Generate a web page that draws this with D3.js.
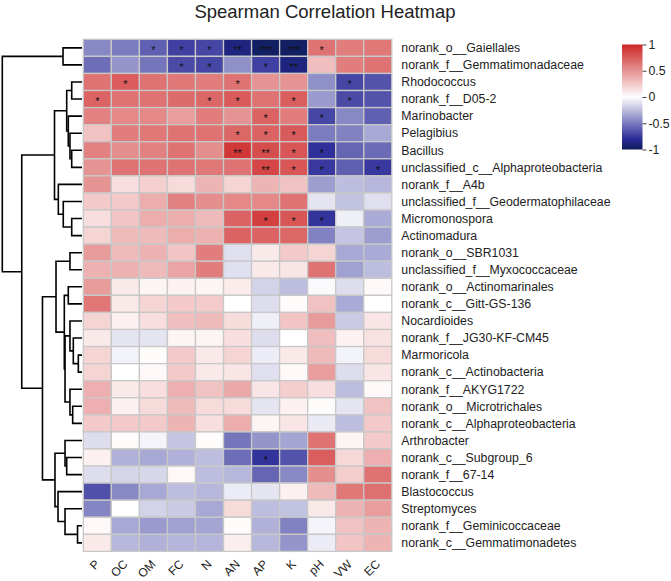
<!DOCTYPE html>
<html><head><meta charset="utf-8">
<script src="https://cdn.jsdelivr.net/npm/d3@7"></script>
<style>
body{margin:0;background:#fff;}
svg{display:block;font-family:"Liberation Sans",Arial,Helvetica,sans-serif;}
</style>
</head><body>
<svg id="chart" width="671" height="581"></svg>
<script>
// ---------------- DATA ----------------
const columns = ["P","OC","OM","FC","N","AN","AP","K","pH","VW","EC"];

const rows = [
  "norank_o__Gaiellales","norank_f__Gemmatimonadaceae","Rhodococcus","norank_f__D05-2",
  "Marinobacter","Pelagibius","Bacillus","unclassified_c__Alphaproteobacteria",
  "norank_f__A4b","unclassified_f__Geodermatophilaceae","Micromonospora","Actinomadura",
  "norank_o__SBR1031","unclassified_f__Myxococcaceae","norank_o__Actinomarinales","norank_c__Gitt-GS-136",
  "Nocardioides","norank_f__JG30-KF-CM45","Marmoricola","norank_c__Actinobacteria",
  "norank_f__AKYG1722","norank_o__Microtrichales","norank_c__Alphaproteobacteria","Arthrobacter",
  "norank_c__Subgroup_6","norank_f__67-14","Blastococcus","Streptomyces",
  "norank_f__Geminicoccaceae","norank_c__Gemmatimonadetes"
];

const values = [
  [-0.45,-0.50,-0.60,-0.72,-0.70,-0.88,-0.97,-0.97, 0.65, 0.60, 0.62],
  [-0.55,-0.40,-0.52,-0.68,-0.70,-0.42,-0.72,-0.88, 0.30, 0.60, 0.65],
  [ 0.65, 0.75, 0.65, 0.62, 0.60, 0.65, 0.50, 0.50,-0.42,-0.70,-0.65],
  [ 0.72, 0.65, 0.65, 0.68, 0.70, 0.76, 0.65, 0.74,-0.38,-0.68,-0.65],
  [ 0.58, 0.55, 0.55, 0.45, 0.60, 0.50, 0.72, 0.60,-0.70,-0.45,-0.60],
  [ 0.28, 0.60, 0.62, 0.65, 0.65, 0.70, 0.72, 0.76,-0.50,-0.47,-0.33],
  [ 0.58, 0.52, 0.58, 0.65, 0.52, 0.92, 0.82, 0.78,-0.78,-0.58,-0.56],
  [ 0.50, 0.65, 0.65, 0.65, 0.62, 0.65, 0.85, 0.78,-0.75,-0.60,-0.75],
  [ 0.50, 0.15, 0.22, 0.17, 0.35, 0.20, 0.35, 0.28,-0.37,-0.25,-0.27],
  [ 0.25, 0.25, 0.38, 0.58, 0.52, 0.55, 0.55, 0.65,-0.10,-0.23,-0.12],
  [ 0.15, 0.27, 0.38, 0.38, 0.32, 0.72, 0.88, 0.78,-0.77,-0.06,-0.32],
  [ 0.20, 0.32, 0.32, 0.38, 0.36, 0.72, 0.72, 0.70,-0.47,-0.22,-0.37],
  [ 0.46, 0.32, 0.36, 0.27, 0.60,-0.12, 0.10, 0.25, 0.20,-0.33,-0.32],
  [ 0.36, 0.36, 0.32, 0.42, 0.60,-0.12, 0.10, 0.12, 0.65,-0.36,-0.25],
  [ 0.46, 0.10, 0.05, 0.06, 0.05, 0.09,-0.17,-0.25,-0.02,-0.13, 0.03],
  [ 0.63, 0.10, 0.20, 0.25, 0.24, 0.00,-0.13, 0.02, 0.28,-0.32, 0.00],
  [ 0.20, 0.07, 0.15, 0.30, 0.32, 0.16,-0.06, 0.27, 0.46,-0.20, 0.12],
  [ 0.10,-0.10,-0.10, 0.05, 0.05, 0.15,-0.13, 0.00, 0.30, 0.06, 0.14],
  [ 0.20,-0.05, 0.02, 0.25, 0.10, 0.20,-0.07, 0.10, 0.32,-0.05, 0.17],
  [ 0.20, 0.00, 0.03, 0.25, 0.10, 0.12,-0.12, 0.03, 0.45,-0.13, 0.12],
  [ 0.37, 0.10, 0.15, 0.37, 0.28, 0.40, 0.12, 0.23, 0.15,-0.25, 0.03],
  [ 0.37, 0.07, 0.17, 0.32, 0.17, 0.17,-0.10, 0.07, 0.02,-0.10, 0.28],
  [ 0.25, 0.25, 0.25, 0.35, 0.15, 0.38, 0.05, 0.12,-0.08,-0.25, 0.25],
  [-0.13, 0.02,-0.04,-0.22, 0.02,-0.52,-0.40,-0.34, 0.65, 0.05, 0.25],
  [ 0.07,-0.30,-0.33,-0.30,-0.25,-0.55,-0.77,-0.65, 0.74, 0.18, 0.37],
  [-0.13,-0.16,-0.15, 0.03,-0.25,-0.27,-0.58,-0.45, 0.52, 0.23, 0.65],
  [-0.66,-0.45,-0.33,-0.25,-0.27,-0.07,-0.10, 0.07, 0.32, 0.62, 0.66],
  [-0.46, 0.00,-0.17,-0.20,-0.33, 0.17,-0.25,-0.23, 0.10, 0.35, 0.45],
  [ 0.03,-0.33,-0.38,-0.36,-0.34, 0.02,-0.30,-0.47,-0.04, 0.28, 0.35],
  [ 0.10,-0.27,-0.30,-0.28,-0.28, 0.08,-0.27,-0.40,-0.07, 0.27, 0.35]
];

const stars = [
  ["","","*","*","*","**","***","***","*","",""],
  ["","","","*","*","","*","**","","",""],
  ["","*","","","","*","","","","*",""],
  ["*","","","","*","*","","*","","*",""],
  ["","","","","","","*","","*","",""],
  ["","","","","","*","*","*","","",""],
  ["","","","","","**","**","*","*","",""],
  ["","","","","","","**","*","*","","*"],
  ["","","","","","","","","","",""],
  ["","","","","","","","","","",""],
  ["","","","","","","*","*","*","",""],
  ["","","","","","","","","","",""],
  ["","","","","","","","","","",""],
  ["","","","","","","","","","",""],
  ["","","","","","","","","","",""],
  ["","","","","","","","","","",""],
  ["","","","","","","","","","",""],
  ["","","","","","","","","","",""],
  ["","","","","","","","","","",""],
  ["","","","","","","","","","",""],
  ["","","","","","","","","","",""],
  ["","","","","","","","","","",""],
  ["","","","","","","","","","",""],
  ["","","","","","","","","","",""],
  ["","","","","","","*","","","",""],
  ["","","","","","","","","","",""],
  ["","","","","","","","","","",""],
  ["","","","","","","","","","",""],
  ["","","","","","","","","","",""],
  ["","","","","","","","","","",""]
];

// hierarchical clustering merges: [left, right, height]  (L = leaf row, M = earlier merge)
const merges = [
  ["L2","L3",0.129], ["L6","L7",0.129], ["L5","M1",0.151], ["L4","M2",0.172],
  ["M0","M3",0.192], ["L10","L11",0.129], ["L9","M5",0.235], ["L8","M6",0.297],
  ["M4","M7",0.345], ["L12","L13",0.151], ["L14","L15",0.172], ["L18","L19",0.046],
  ["L17","M11",0.109], ["L16","M12",0.151], ["L21","L22",0.117], ["L20","M14",0.151],
  ["M13","M15",0.213], ["M10","M16",0.222], ["M9","M17",0.326], ["L24","L25",0.192],
  ["L23","M19",0.213], ["L28","L29",0.056], ["L27","M21",0.213], ["L26","M22",0.301],
  ["M20","M23",0.339], ["M18","M24",0.496], ["M8","M25",0.756], ["L0","L1",0.238],
  ["M27","M26",1.0]
];

const legendTicks = [1, 0.5, 0, -0.5, -1];
const titleText = "Spearman Correlation Heatmap";

// ---------------- DRAW ----------------
const svg = d3.select("#chart");
const gridL = 83.3, gridR = 391.8, gridT = 39.3, gridB = 551.4;

const x = d3.scaleBand().domain(columns).range([gridL, gridR]).padding(0);
const y = d3.scaleBand().domain(rows).range([gridT, gridB]).padding(0);

const color = d3.scaleLinear()
  .domain([-1, -0.8, 0, 1])
  .range(["#0e1d58", "#2b2b98", "#ffffff", "#cd2626"])
  .interpolate(d3.interpolateRgb)
  .clamp(true);

// title
svg.append("text")
  .attr("x", 325).attr("y", 18)
  .attr("text-anchor", "middle")
  .attr("font-size", 18.5)
  .attr("fill", "#222")
  .text(titleText);

// cells
const cells = [];
rows.forEach((r, i) => columns.forEach((c, j) => cells.push({r, c, v: values[i][j], s: stars[i][j]})));

svg.append("g").selectAll("rect").data(cells).join("rect")
  .attr("x", d => x(d.c)).attr("y", d => y(d.r))
  .attr("width", x.bandwidth()).attr("height", y.bandwidth())
  .attr("fill", d => color(d.v))
  .attr("stroke", "#c8c8c8").attr("stroke-width", 1.3);

svg.append("g").selectAll("text").data(cells.filter(d => d.s)).join("text")
  .attr("x", d => x(d.c) + x.bandwidth() / 2)
  .attr("y", d => y(d.r) + y.bandwidth() / 2 + 6.3)
  .attr("text-anchor", "middle")
  .attr("font-size", 11)
  .attr("fill", "#111")
  .text(d => d.s);

// row labels
svg.append("g").selectAll("text").data(rows).join("text")
  .attr("x", gridR + 9.5)
  .attr("y", d => y(d) + y.bandwidth() / 2 + 4.3)
  .attr("font-size", 12.3)
  .attr("fill", "#222")
  .text(d => d);

// column labels (rotated 45°)
svg.append("g").selectAll("text").data(columns).join("text")
  .attr("transform", d => `translate(${x(d) + x.bandwidth() / 2 + 3},${gridB + 13.5}) rotate(-45)`)
  .attr("text-anchor", "end")
  .attr("font-size", 12)
  .attr("fill", "#222")
  .text(d => d);

// dendrogram
const hx = d3.scaleLinear().domain([0, 1]).range([82, 2.3]);
const nodes = {};
rows.forEach((r, i) => { nodes["L" + i] = {y: y(r) + y.bandwidth() / 2, h: 0}; });
const dg = svg.append("g").attr("fill", "none").attr("stroke", "#000").attr("stroke-width", 1.6);
merges.forEach(([a, b, h], k) => {
  const A = nodes[a], B = nodes[b];
  nodes["M" + k] = {y: (A.y + B.y) / 2, h};
  const p = d3.path();
  p.moveTo(hx(A.h), A.y);
  p.lineTo(hx(h), A.y);
  p.lineTo(hx(h), B.y);
  p.lineTo(hx(B.h), B.y);
  dg.append("path").attr("d", p.toString());
});

// legend
const legX = 622, legW = 20.5, legT = 44.5, legB = 149.5;
const ly = d3.scaleLinear().domain([-1, 1]).range([legB, legT]);
const grad = svg.append("defs").append("linearGradient")
  .attr("id", "lg").attr("x1", 0).attr("y1", 1).attr("x2", 0).attr("y2", 0);
d3.range(0, 1.0001, 0.05).forEach(t => {
  grad.append("stop").attr("offset", t).attr("stop-color", color(-1 + 2 * t));
});
svg.append("rect")
  .attr("x", legX).attr("y", legT).attr("width", legW).attr("height", legB - legT)
  .attr("fill", "url(#lg)");
const lax = svg.append("g")
  .attr("transform", `translate(${legX + legW},0)`)
  .call(d3.axisRight(ly).tickValues(legendTicks).tickSize(4).tickPadding(2).tickFormat(d => String(d)));
lax.select(".domain").remove();
lax.selectAll("line").attr("stroke", "#444");
lax.selectAll("text").attr("font-size", 12.3).attr("fill", "#222")
  .attr("font-family", "'Liberation Sans',Arial,sans-serif");
</script>
</body></html>
